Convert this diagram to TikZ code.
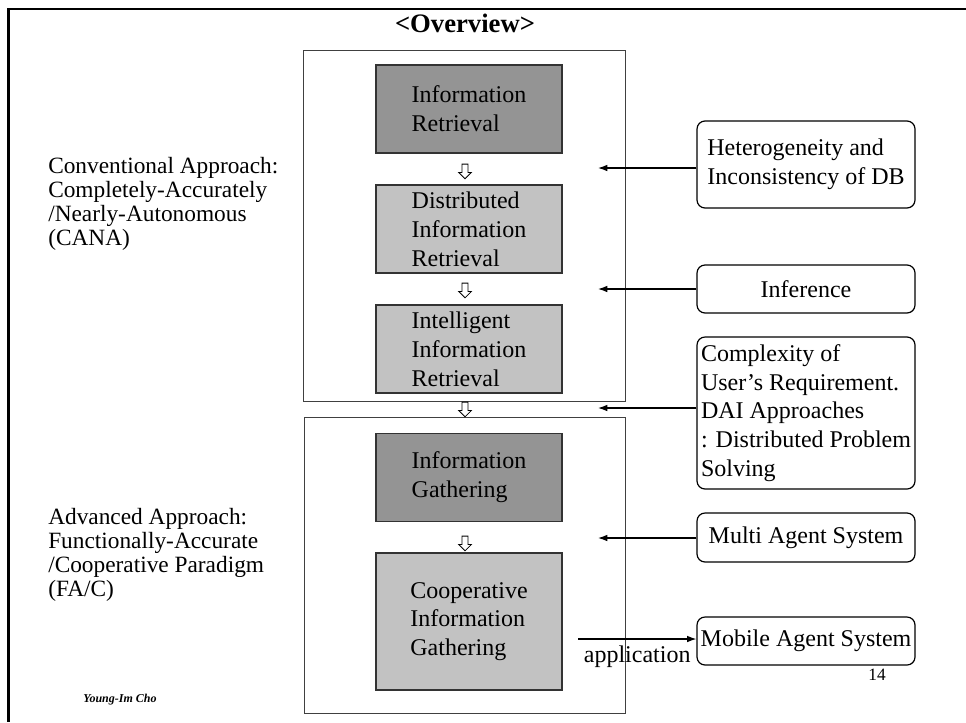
\documentclass[tikz,border=0pt]{standalone}
\usepackage{fontspec}
\setmainfont{Liberation Serif}
\usetikzlibrary{arrows.meta, positioning, calc, shapes.arrows}

\begin{document}
\begin{tikzpicture}[x=0.75pt, y=-0.75pt, >={Latex[length=7pt,width=5pt]},
    every node/.style={font=\fontsize{18}{21.6}\selectfont},
    stage/.style={draw=black!80, line width=0.9pt, minimum width=139.5pt, minimum height=66pt, inner sep=0pt, align=left},
    darkstage/.style={stage, fill=black!42},
    lightstage/.style={stage, fill=black!24},
    issue/.style={draw, rounded corners=6pt, line width=0.9pt, minimum width=163.5pt, inner sep=0pt, align=left},
    side/.style={anchor=west, inner sep=0pt, align=left, font=\fontsize{17.5}{18}\selectfont},
    hollowdown/.style={single arrow, draw, line width=0.6pt, rotate=-90, inner xsep=0pt, inner ysep=1.9pt,
        single arrow head extend=2.6pt, minimum height=11pt}]
    \useasboundingbox (0,0) rectangle (966,722);

    % moldura do slide
    \draw[line width=2.2pt] (966,9) -- (8.5,9) -- (8.5,722);
    \node[font=\fontsize{20}{24}\selectfont\bfseries] (title) at (465,23) {<Overview>};

    % as duas fases
    \draw[black!75, line width=0.6pt] (303,50) rectangle (625,401);
    \draw[black!75, line width=0.6pt] (304,417) rectangle (625,713);

    \node[darkstage] (ir) at (469,109) {Information\\Retrieval};
    \node[lightstage] (dir) at (469,229) {Distributed\\Information\\Retrieval};
    \node[lightstage] (iir) at (469,349) {Intelligent\\Information\\Retrieval};
    \node[darkstage] (ig) at (469,477.5) {Information\\Gathering};
    \node[lightstage, minimum height=102.75pt] (cig) at (469,621.5) {Cooperative\\Information\\Gathering};

    \foreach \y [count=\i] in {170,289,408,542}
        \node[hollowdown] (down\i) at (465,\y) {};

    % motivos a direita
    \node[issue, minimum height=65.25pt] (hetero) at (806,164.5) {Heterogeneity and\\Inconsistency of DB};
    \node[issue, minimum height=36pt] (infer) at (806,289) {Inference};
    \node[issue, minimum height=114pt] (complex) at (806,413) {Complexity of\\User's Requirement.\\DAI Approaches\\: Distributed Problem\\Solving};
    \node[issue, minimum height=36.75pt] (multi) at (806,537.5) {Multi Agent System};
    \node[issue, minimum height=36pt] (mobile) at (806,641) {Mobile Agent System};

    \coordinate (t1) at (598,168);
    \coordinate (t2) at (598,289);
    \coordinate (t3) at (598,408);
    \coordinate (t4) at (598,538);
    \coordinate (s5) at (578,639);

    \draw[->, line width=0.9pt] (hetero.west |- t1) -- (t1);
    \draw[->, line width=0.9pt] (infer.west |- t2) -- (t2);
    \draw[->, line width=0.9pt] (complex.west |- t3) -- (t3);
    \draw[->, line width=0.9pt] (multi.west |- t4) -- (t4);
    \draw[->, line width=0.9pt] (s5) -- (s5 -| mobile.west) node[midway, below=1pt] (app) {application};

    % abordagens
    \node[side] (cana) at (48,204) {Conventional Approach:\\Completely-Accurately\\/Nearly-Autonomous\\(CANA)};
    \node[side] (fac) at (48,554.5) {Advanced Approach:\\Functionally-Accurate\\/Cooperative Paradigm\\(FA/C)};

    \node[font=\fontsize{9}{11}\selectfont\bfseries\itshape] (author) at (120,700) {Young-Im Cho};
    \node[font=\fontsize{13}{15}\selectfont] (page) at (877,675) {14};

\end{tikzpicture}
\end{document}
